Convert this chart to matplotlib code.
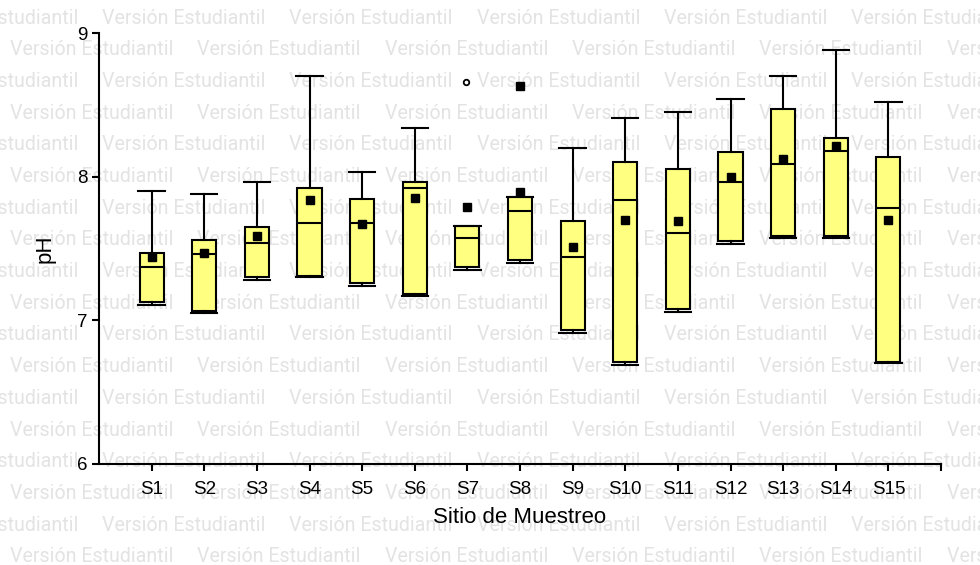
import matplotlib
matplotlib.use("Agg")
import matplotlib.pyplot as plt

# ---- data ----
sites   = ["S1", "S2", "S3", "S4", "S5", "S6", "S7", "S8", "S9", "S10",
           "S11", "S12", "S13", "S14", "S15"]
whislo  = [7.11, 7.05, 7.28, 7.30, 7.24, 7.17, 7.35, 7.40, 6.91, 6.69,
           7.06, 7.53, 7.57, 7.57, 6.70]
q1      = [7.13, 7.065, 7.30, 7.31, 7.26, 7.18, 7.37, 7.42, 6.93, 6.71,
           7.08, 7.55, 7.59, 7.59, 6.71]
medians = [7.37, 7.46, 7.54, 7.68, 7.68, 7.92, 7.57, 7.76, 7.44, 7.84,
           7.61, 7.96, 8.09, 8.18, 7.78]
q3      = [7.47, 7.56, 7.65, 7.92, 7.845, 7.96, 7.66, 7.86, 7.69, 8.10,
           8.05, 8.17, 8.47, 8.27, 8.14]
whishi  = [7.90, 7.88, 7.96, 8.70, 8.03, 8.34, 7.66, 7.86, 8.20, 8.41,
           8.45, 8.54, 8.70, 8.88, 8.52]
means   = [7.44, 7.47, 7.59, 7.84, 7.67, 7.85, 7.79, 7.89, 7.51, 7.70,
           7.69, 8.00, 8.12, 8.21, 7.70]
outliers_open = {"S7": [8.66]}      # open circle
outliers_far  = {"S8": [8.63]}      # filled square
yticks = [6, 7, 8, 9]
xlabel = "Sitio de Muestreo"
ylabel = "pH"
watermark = "Versión Estudiantil"

W, H = 980, 565
fig = plt.figure(figsize=(W / 100, H / 100), dpi=100)
fig.patch.set_facecolor("white")

# ---- watermark tiling (behind everything) ----
wm_font = "Roboto"
renderer = fig.canvas.get_renderer()
probe = fig.text(0, 0, watermark, fontsize=10, family=wm_font)
wpx = probe.get_window_extent(renderer).width
probe.remove()
wm_size = 10 * 163.0 / wpx
period = 187.3
row_h = 31.7
for i in range(18):
    ypix = 18 + row_h * i
    x0 = (102 - period) if i % 2 == 0 else 10
    for k in range(-1, 7):
        xpix = x0 + k * period
        fig.text(xpix / W, 1 - ypix / H, watermark, fontsize=wm_size,
                 family=wm_font, color="#e3e3e3", ha="left",
                 va="center", zorder=-5)

# ---- axes ----
ax = fig.add_axes([99 / W, 1 - 464 / H, (941 - 99) / W, (464 - 33) / H])
ax.patch.set_alpha(0)

positions = list(range(1, len(sites) + 1))
stats = []
for i, s in enumerate(sites):
    stats.append(dict(med=medians[i], q1=q1[i], q3=q3[i],
                      whislo=whislo[i], whishi=whishi[i], mean=means[i],
                      fliers=[], label=s))

lw = 1.5
ax.bxp(stats, positions=positions, widths=0.46, capwidths=0.5,
       showmeans=True, showfliers=False, patch_artist=True,
       boxprops=dict(facecolor="#ffff80", edgecolor="black", linewidth=lw),
       medianprops=dict(color="black", linewidth=lw),
       whiskerprops=dict(color="black", linewidth=lw),
       capprops=dict(color="black", linewidth=lw),
       meanprops=dict(marker="s", markerfacecolor="black",
                      markeredgecolor="black", markersize=6))

for s, vals in outliers_open.items():
    p = sites.index(s) + 1
    ax.plot([p - 0.03] * len(vals), vals, linestyle="none", marker="o",
            markerfacecolor="white", markeredgecolor="black",
            markersize=4, markeredgewidth=1.3, zorder=5)
for s, vals in outliers_far.items():
    p = sites.index(s) + 1
    ax.plot([p] * len(vals), vals, linestyle="none", marker="s",
            markerfacecolor="black", markeredgecolor="black",
            markersize=6, zorder=5)

ax.set_xlim(0, 16)
ax.set_ylim(6, 9)
ax.set_yticks(yticks)
ax.set_yticklabels([str(t) for t in yticks])
ax.set_xticks(positions + [16])
ax.set_xticklabels(sites + [""])

for sp in ["top", "right"]:
    ax.spines[sp].set_visible(False)
for sp in ["left", "bottom"]:
    ax.spines[sp].set_linewidth(1.5)
ax.tick_params(axis="both", direction="out", length=5, width=1.5,
               labelsize=13.5, colors="black")
ax.tick_params(axis="x", pad=7)
ax.tick_params(axis="y", pad=3)
for lab in ax.get_xticklabels() + ax.get_yticklabels():
    lab.set_family("Liberation Sans")

ax.set_xlabel(xlabel, fontsize=16, family="Liberation Sans", labelpad=7)
ax.set_ylabel(ylabel, fontsize=16, family="Liberation Sans", labelpad=16)

fig.savefig("out.png", dpi=100)
